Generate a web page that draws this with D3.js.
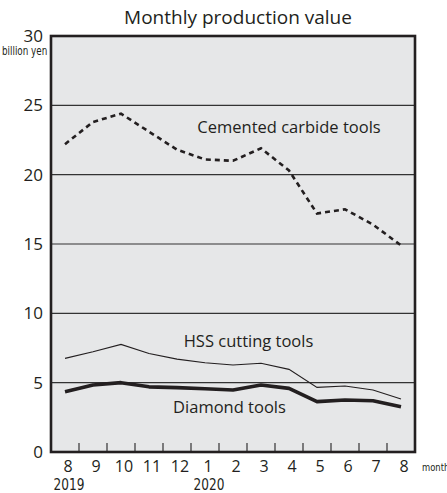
<!DOCTYPE html>
<html>
<head>
<meta charset="utf-8">
<script src="https://cdn.jsdelivr.net/npm/d3@7"></script>
<style>
  body { margin: 0; background: #fff; }
  text { font-family: "Open Sans", sans-serif; fill: #231f20; }
  .narrow { font-family: "Liberation Sans Narrow", "DejaVu Sans Condensed", sans-serif; font-weight: normal; }
</style>
</head>
<body>
<script>
// monthly production value, billion yen (Aug 2019 .. Aug 2020)
var months = ["8", "9", "10", "11", "12", "1", "2", "3", "4", "5", "6", "7", "8"];
var years = [{ label: "2019", at: 0 }, { label: "2020", at: 5 }];
var carbide = [22.2, 23.8, 24.4, 23.1, 21.8, 21.1, 21.0, 21.9, 20.3, 17.2, 17.5, 16.4, 14.9];
var hss = [6.75, 7.23, 7.76, 7.1, 6.7, 6.44, 6.27, 6.4, 5.96, 4.66, 4.76, 4.47, 3.82];
var diamond = [4.35, 4.83, 5.0, 4.7, 4.64, 4.56, 4.47, 4.83, 4.59, 3.63, 3.75, 3.7, 3.27];
var yTicks = [0, 5, 10, 15, 20, 25, 30];

var width = 447, height = 493;
// note: "top" is taken by window.top, so use plot* names
var plotL = 51, plotR = 415, plotT = 36, plotB = 452;

var svg = d3.select("body").append("svg")
  .attr("width", width)
  .attr("height", height);

var x = d3.scaleBand().domain(d3.range(months.length)).range([plotL, plotR]);
var y = d3.scaleLinear().domain([0, 30]).range([plotB, plotT]);
var cx = function(i) { return x(i) + x.bandwidth() / 2; };

// plot background
svg.append("rect")
  .attr("x", plotL).attr("y", plotT)
  .attr("width", plotR - plotL).attr("height", plotB - plotT)
  .attr("fill", "#e6e7e8");

// gridlines
svg.selectAll(".grid").data(yTicks.filter(function(d) { return d > 0 && d < 30; }))
  .enter().append("line")
  .attr("x1", plotL).attr("x2", plotR)
  .attr("y1", function(d) { return y(d); })
  .attr("y2", function(d) { return y(d); })
  .attr("stroke", "#333").attr("stroke-width", 1.2);

// bottom ticks between months
svg.selectAll(".tick").data(d3.range(1, months.length))
  .enter().append("line")
  .attr("x1", function(i) { return x(i); })
  .attr("x2", function(i) { return x(i); })
  .attr("y1", plotB).attr("y2", plotB - 9)
  .attr("stroke", "#333").attr("stroke-width", 1.2);

var line = d3.line()
  .x(function(d, i) { return cx(i); })
  .y(function(d) { return y(d); });

svg.append("path").datum(carbide)
  .attr("d", line).attr("fill", "none")
  .attr("stroke", "#231f20").attr("stroke-width", 2.6)
  .attr("stroke-dasharray", "5,4");

svg.append("path").datum(hss)
  .attr("d", line).attr("fill", "none")
  .attr("stroke", "#231f20").attr("stroke-width", 1.1);

svg.append("path").datum(diamond)
  .attr("d", line).attr("fill", "none")
  .attr("stroke", "#231f20").attr("stroke-width", 3.6)
  .attr("stroke-linejoin", "round");

// frame
svg.append("rect")
  .attr("x", plotL).attr("y", plotT)
  .attr("width", plotR - plotL).attr("height", plotB - plotT)
  .attr("fill", "none").attr("stroke", "#231f20").attr("stroke-width", 2.6);

// y labels
svg.selectAll(".ylab").data(yTicks)
  .enter().append("text")
  .attr("x", 43)
  .attr("y", function(d) { return y(d); })
  .attr("dy", "0.36em")
  .attr("text-anchor", "end")
  .attr("font-size", 17)
  .text(function(d) { return d; });

// squeezed a bit to look like the condensed face in the original
svg.append("text").attr("class", "narrow")
  .attr("transform", "translate(2,55) scale(0.85,1)")
  .attr("font-size", 11.5)
  .text("billion yen");

// x labels
svg.selectAll(".xlab").data(months)
  .enter().append("text")
  .attr("x", function(d, i) { return cx(i) + 3; })
  .attr("y", 472)
  .attr("text-anchor", "middle")
  .attr("font-size", 16)
  .text(function(d) { return d; });

svg.selectAll(".year").data(years)
  .enter().append("text").attr("class", "narrow")
  .attr("transform", function(d) { return "translate(" + (cx(d.at) + 4) + ",490) scale(0.9,1)"; })
  .attr("text-anchor", "middle")
  .attr("font-size", 15)
  .text(function(d) { return d.label; });

svg.append("text").attr("class", "narrow")
  .attr("transform", "translate(422,471) scale(0.85,1)")
  .attr("font-size", 11)
  .text("month");

// title and series labels
svg.append("text")
  .attr("x", 238).attr("y", 24)
  .attr("text-anchor", "middle")
  .attr("font-size", 19)
  .text("Monthly production value");

svg.append("text")
  .attr("x", 289).attr("y", 133)
  .attr("text-anchor", "middle")
  .attr("font-size", 16.5)
  .text("Cemented carbide tools");

svg.append("text")
  .attr("x", 248.5).attr("y", 347)
  .attr("text-anchor", "middle")
  .attr("font-size", 16.5)
  .text("HSS cutting tools");

svg.append("text")
  .attr("x", 229.5).attr("y", 413)
  .attr("text-anchor", "middle")
  .attr("font-size", 16.5)
  .text("Diamond tools");
</script>
</body>
</html>
